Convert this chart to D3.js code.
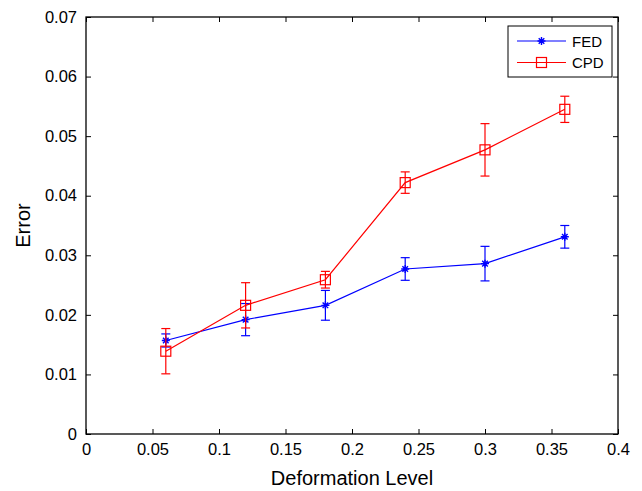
<!DOCTYPE html>
<html>
<head>
<meta charset="utf-8">
<script src="https://cdn.jsdelivr.net/npm/d3@7"></script>
<style>
 body { margin: 0; background: #fff; }
 text { font-family: "Liberation Sans", Arial, sans-serif; }
</style>
</head>
<body>
<script>
 // data
 var levels = [0.06, 0.12, 0.18, 0.24, 0.30, 0.36];
 var fedMean = [0.0157, 0.0192, 0.0216, 0.0277, 0.0286, 0.0331];
 var fedErr  = [0.0011, 0.0027, 0.0025, 0.0019, 0.0029, 0.0019];
 var cpdMean = [0.0139, 0.0216, 0.0259, 0.0422, 0.0477, 0.0545];
 var cpdErr  = [0.0038, 0.0038, 0.0014, 0.0018, 0.0044, 0.0022];
 var xTicks = [0, 0.05, 0.1, 0.15, 0.2, 0.25, 0.3, 0.35, 0.4];
 var yTicks = [0, 0.01, 0.02, 0.03, 0.04, 0.05, 0.06, 0.07];

 var W = 642, H = 491;
 var margin = {top: 17, right: 24, bottom: 57, left: 86};
 var width = W - margin.left - margin.right;
 var height = H - margin.top - margin.bottom;

 var svg = d3.select("body").append("svg")
   .attr("width", W)
   .attr("height", H);

 var g = svg.append("g")
   .attr("transform", "translate(" + margin.left + "," + margin.top + ")");

 var x = d3.scaleLinear().domain([0, 0.4]).range([0, width]);
 var y = d3.scaleLinear().domain([0, 0.07]).range([height, 0]);

 // axes, MATLAB style: inward ticks on all four sides
 function styleAxis(sel) {
   sel.select(".domain").remove();
   sel.selectAll(".tick line").attr("stroke", "#000");
   sel.selectAll("text").attr("font-size", 16.5).attr("fill", "#000");
 }

 g.append("g")
   .attr("transform", "translate(0," + height + ")")
   .call(d3.axisBottom(x).tickValues(xTicks).tickSize(-5).tickPadding(9).tickFormat(d3.format("")))
   .call(styleAxis);
 g.append("g")
   .call(d3.axisTop(x).tickValues(xTicks).tickSize(-5).tickFormat(""))
   .call(styleAxis);
 g.append("g")
   .call(d3.axisLeft(y).tickValues(yTicks).tickSize(-5).tickPadding(9).tickFormat(d3.format("")))
   .call(styleAxis);
 g.append("g")
   .attr("transform", "translate(" + width + ",0)")
   .call(d3.axisRight(y).tickValues(yTicks).tickSize(-5).tickFormat(""))
   .call(styleAxis);

 g.append("rect")
   .attr("width", width).attr("height", height)
   .attr("fill", "none").attr("stroke", "#000").attr("stroke-width", 1.3);

 // axis labels
 svg.append("text")
   .attr("x", margin.left + width / 2).attr("y", 485)
   .attr("text-anchor", "middle").attr("font-size", 20)
   .text("Deformation Level");
 svg.append("text")
   .attr("transform", "translate(30," + (margin.top + height / 2) + ") rotate(-90)")
   .attr("text-anchor", "middle").attr("font-size", 20)
   .text("Error");

 var series = [
   {name: "FED", mean: fedMean, err: fedErr, color: "#0000ff", marker: "star"},
   {name: "CPD", mean: cpdMean, err: cpdErr, color: "#ff0000", marker: "square"}
 ];

 var line = d3.line()
   .x(function(d) { return x(d[0]); })
   .y(function(d) { return y(d[1]); });

 function drawMarker(sel, type, cx, cy, color) {
   if (type === "square") {
     sel.append("rect")
       .attr("x", cx - 5).attr("y", cy - 5)
       .attr("width", 10).attr("height", 10)
       .attr("fill", "none").attr("stroke", color).attr("stroke-width", 1.2);
   } else {
     var r = 4;
     var p = "M" + (cx - r) + "," + cy + "H" + (cx + r) +
             "M" + cx + "," + (cy - r) + "V" + (cy + r) +
             "M" + (cx - r * 0.7) + "," + (cy - r * 0.7) + "L" + (cx + r * 0.7) + "," + (cy + r * 0.7) +
             "M" + (cx - r * 0.7) + "," + (cy + r * 0.7) + "L" + (cx + r * 0.7) + "," + (cy - r * 0.7);
     sel.append("path").attr("d", p).attr("stroke", color).attr("stroke-width", 1.4).attr("fill", "none");
   }
 }

 series.forEach(function(s) {
   var pts = levels.map(function(l, i) { return [l, s.mean[i], s.err[i]]; });
   var sg = g.append("g");

   // error bars
   pts.forEach(function(p) {
     var cx = x(p[0]), top = y(p[1] + p[2]), bot = y(p[1] - p[2]);
     sg.append("line").attr("x1", cx).attr("x2", cx).attr("y1", top).attr("y2", bot)
       .attr("stroke", s.color).attr("stroke-width", 1.2);
     [top, bot].forEach(function(yy) {
       sg.append("line").attr("x1", cx - 4.5).attr("x2", cx + 4.5).attr("y1", yy).attr("y2", yy)
         .attr("stroke", s.color).attr("stroke-width", 1.2);
     });
   });

   sg.append("path").datum(pts).attr("d", line)
     .attr("fill", "none").attr("stroke", s.color).attr("stroke-width", 1.2);

   pts.forEach(function(p) { drawMarker(sg, s.marker, x(p[0]), y(p[1]), s.color); });
 });

 // legend
 var lg = svg.append("g");
 lg.append("rect")
   .attr("x", 508).attr("y", 26).attr("width", 104).attr("height", 51)
   .attr("fill", "#fff").attr("stroke", "#000").attr("stroke-width", 1);
 series.forEach(function(s, i) {
   var ly = 41 + i * 21.5;
   lg.append("line").attr("x1", 517).attr("x2", 566).attr("y1", ly).attr("y2", ly)
     .attr("stroke", s.color).attr("stroke-width", 1.2);
   drawMarker(lg, s.marker, 541.5, ly, s.color);
   lg.append("text").attr("x", 572).attr("y", ly + 5.5)
     .attr("font-size", 15).text(s.name);
 });
</script>
</body>
</html>
